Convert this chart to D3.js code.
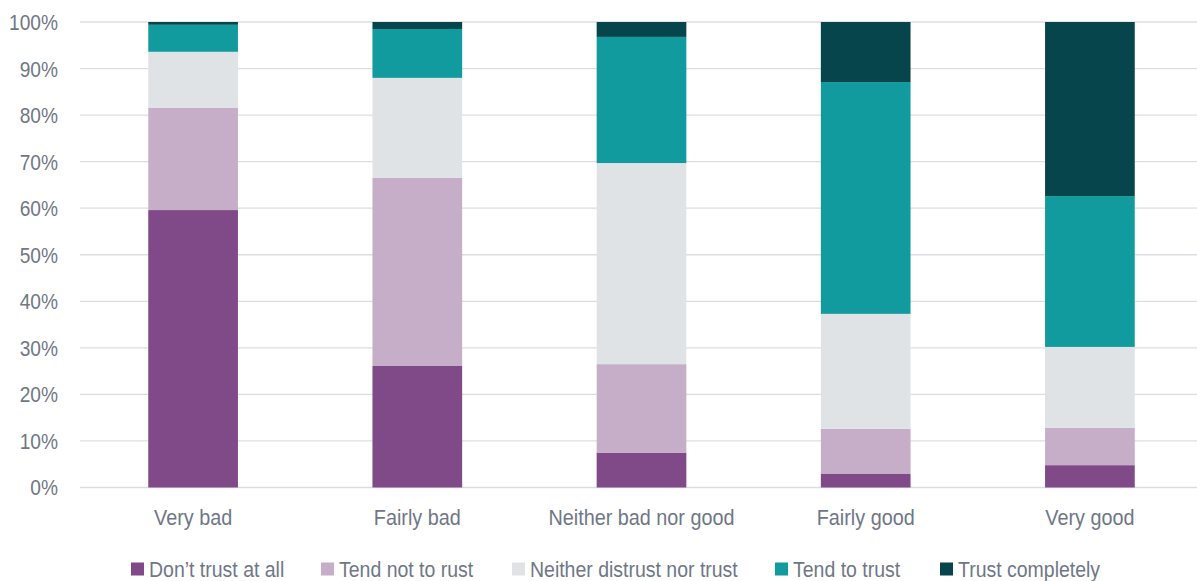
<!DOCTYPE html>
<html><head><meta charset="utf-8">
<script src="https://cdn.jsdelivr.net/npm/d3@7"></script>
<style>
html,body{margin:0;padding:0;background:#fff;}
svg text{font-family:"Liberation Sans Narrow","Arial Narrow","Liberation Sans",Arial,sans-serif;fill:#6f7786;}
</style></head>
<body><svg id="chart" width="1197" height="581"></svg>
<script>
const categories = ["Very bad", "Fairly bad", "Neither bad nor good", "Fairly good", "Very good"];
const seriesNames = ["Don\u2019t trust at all", "Tend not to rust", "Neither distrust nor trust", "Tend to trust", "Trust completely"];
const dontTrust      = [59.6, 26.1, 7.5, 3.0, 4.8];
const tendNotTrust   = [22.0, 40.4, 19.0, 9.6, 8.0];
const neither        = [12.0, 21.5, 43.2, 24.7, 17.4];
const tendTrust      = [5.8, 10.5, 27.1, 49.8, 32.4];
const trustCompletely= [0.6, 1.5, 3.2, 12.9, 37.4];
const yTicks = [0, 10, 20, 30, 40, 50, 60, 70, 80, 90, 100];
const colors = ["#7f4a87", "#c6aec8", "#dfe3e6", "#129b9e", "#06454b"];

const seriesValues = [dontTrust, tendNotTrust, neither, tendTrust, trustCompletely];
const table = categories.map((c, i) => {
  const row = {cat: c};
  seriesNames.forEach((s, j) => row[s] = seriesValues[j][i]);
  return row;
});

const FS = 22;
function condense(factor) {
  return sel => sel.each(function() {
    const w = this.getComputedTextLength();
    d3.select(this).attr("textLength", w * factor).attr("lengthAdjust", "spacingAndGlyphs");
  });
}

const svg = d3.select("#chart");
const x = d3.scaleBand().domain(categories).range([81, 1202]).paddingInner(0.6).paddingOuter(0.3);
const y = d3.scaleLinear().domain([0, 100]).range([487.5, 22]);

// gridlines
svg.append("g").selectAll("line").data(yTicks).join("line")
  .attr("x1", 80).attr("x2", 1197)
  .attr("y1", d => y(d)).attr("y2", d => y(d))
  .attr("stroke", "#dcdde3").attr("stroke-width", 1.3);

// y axis
const yAxis = d3.axisLeft(y).tickValues(yTicks).tickFormat(d => d + "%").tickSize(0).tickPadding(0);
const yg = svg.append("g").attr("transform", "translate(58,0)").call(yAxis);
yg.select(".domain").remove();
yg.selectAll("text").attr("font-size", FS).attr("fill", "#6f7786").attr("font-family", null)
  .attr("dy", "0.34em").call(condense(0.87));

// bars
const stack = d3.stack().keys(seriesNames)(table);
svg.append("g").selectAll("g").data(stack).join("g")
  .attr("fill", (d, i) => colors[i])
  .selectAll("rect").data(d => d).join("rect")
  .attr("x", d => x(d.data.cat))
  .attr("width", x.bandwidth())
  .attr("y", d => y(d[1]))
  .attr("height", d => y(d[0]) - y(d[1]));

// x axis
const xAxis = d3.axisBottom(x).tickSize(0).tickPadding(0);
const xg = svg.append("g").attr("transform", "translate(0,509)").call(xAxis);
xg.select(".domain").remove();
xg.selectAll("text").attr("font-size", FS).attr("fill", "#6f7786").attr("font-family", null)
  .attr("dy", "0.71em").call(condense(0.9));

// legend
const legendX = [131, 321, 512, 775, 940];
const lg = svg.append("g").selectAll("g").data(seriesNames).join("g")
  .attr("transform", (d, i) => `translate(${legendX[i]},562.5)`);
lg.append("rect").attr("width", 13).attr("height", 13).attr("fill", (d, i) => colors[i]);
lg.append("text").attr("x", 18).attr("y", 6.5).attr("dy", "0.36em").attr("font-size", FS)
  .text(d => d).call(condense(0.885));
</script></body></html>
